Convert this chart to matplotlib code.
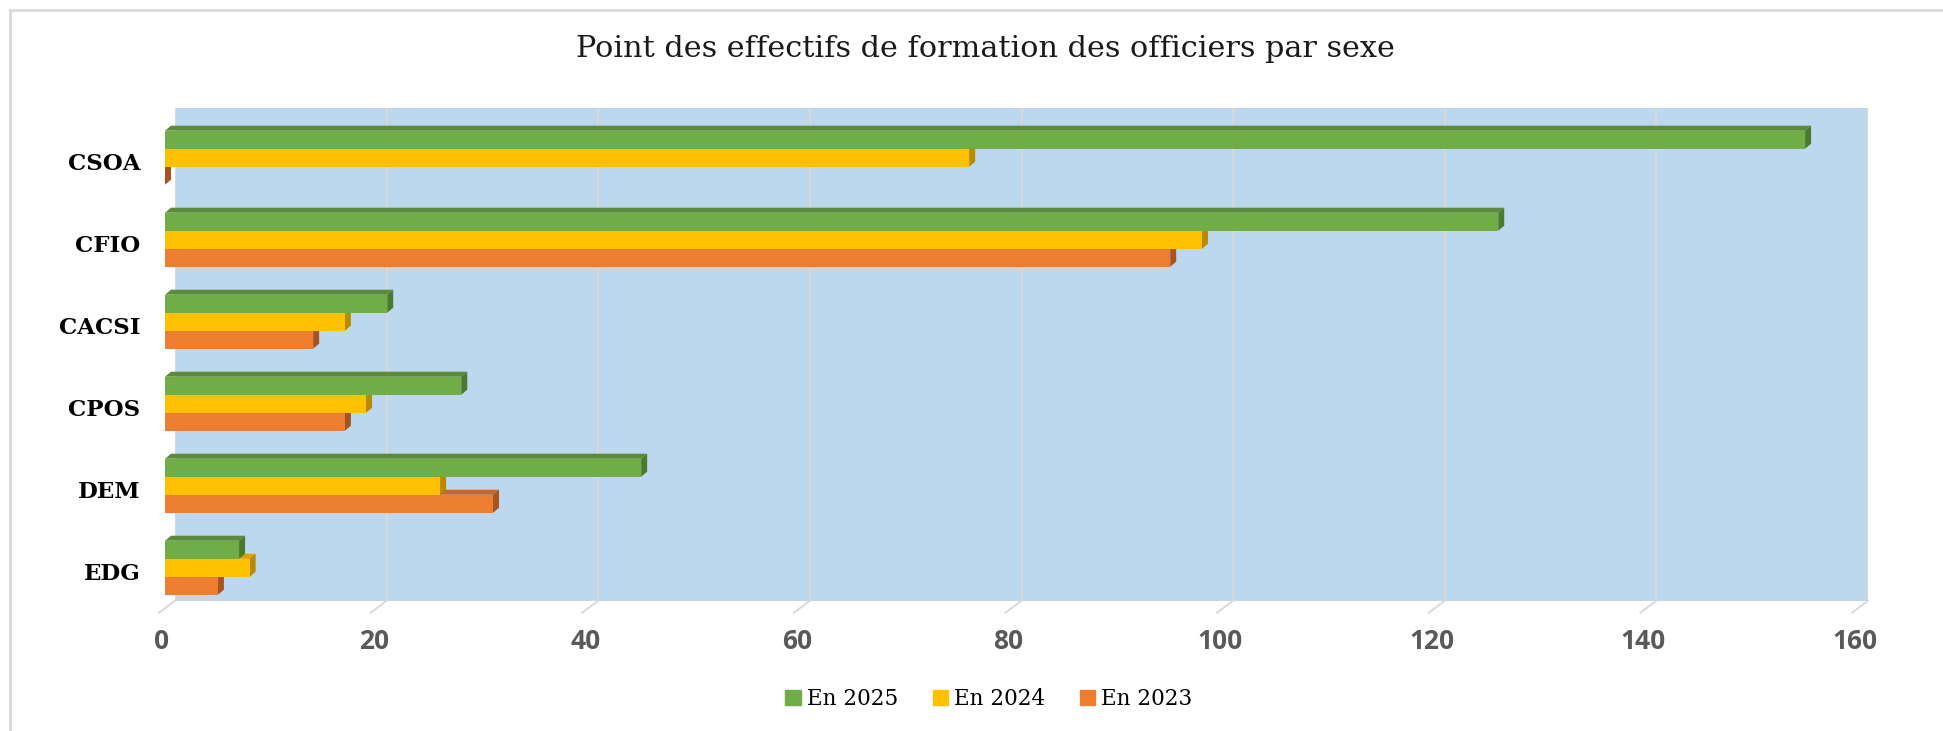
import numpy as np
import matplotlib.pyplot as plt
from matplotlib.patches import Polygon, Patch
from matplotlib.transforms import ScaledTranslation

categories = ["CSOA", "CFIO", "CACSI", "CPOS", "DEM", "EDG"]
en_2025 = [155, 126, 21, 28, 45, 7]
en_2024 = [76, 98, 17, 19, 26, 8]
en_2023 = [0, 95, 14, 17, 31, 5]
series_labels = ["En 2025", "En 2024", "En 2023"]
xticks = list(range(0, 161, 20))

front_col = ["#70AD47", "#FFC000", "#ED7D31"]
top_col = ["#5A8A3A", "#D9A300", "#C8652A"]
side_col = ["#4B7A2D", "#B88A00", "#A9531E"]

W, H = 1943, 731
fig = plt.figure(figsize=(W / 100, H / 100), dpi=100)

# back wall of the 3d chart
wall_l, wall_r, wall_t, wall_b = 175, 1868, 108, 600.7
ax = fig.add_axes([wall_l / W, 1 - wall_b / H, (wall_r - wall_l) / W, (wall_b - wall_t) / H])
ax.set_facecolor("#BDD7EE")
for s in ax.spines.values():
    s.set_visible(False)

ax.set_xlim(0, 160)
ax.set_ylim(5.402, -0.606)

ppx = (wall_r - wall_l) / 160.0   # pixels per value unit
ppy = 82.0                          # pixels per category

for xv in xticks:
    ax.axvline(xv, color="#D9D9D9", lw=1.4, zorder=1)
    # little diagonal floor ticks
    ax.plot([xv, xv - 16 / ppx], [5.402, 5.402 + 12 / ppy], color="#D9D9D9",
            lw=1.4, clip_on=False, zorder=1)

# bars: front plane sits 10 px to the left of the wall
x_off = -10 / ppx
dx = 6 / ppx
dy = -5 / ppy
bh = 18 / ppy
pos = np.arange(len(categories))
series = [en_2025, en_2024, en_2023]
shifts = [-bh, 0, bh]

# draw bottom series first so upper bars hide their top faces
for i in [2, 1, 0]:
    vals = series[i]
    yc = pos + shifts[i]
    z = 3 + (2 - i) * 2
    ax.barh(yc, vals, height=bh, left=x_off, color=front_col[i], zorder=z + 1, clip_on=False)
    for y, v in zip(yc, vals):
        xl, xr = x_off, x_off + v
        yt, yb = y - bh / 2, y + bh / 2
        ax.add_patch(Polygon([(xl, yt), (xr, yt), (xr + dx, yt + dy), (xl + dx, yt + dy)],
                             closed=True, color=top_col[i], lw=0, zorder=z, clip_on=False))
        ax.add_patch(Polygon([(xr, yt), (xr + dx, yt + dy), (xr + dx, yb + dy), (xr, yb)],
                             closed=True, color=side_col[i], lw=0, zorder=z, clip_on=False))

ax.set_xticks(xticks)
ax.set_xticklabels([str(t) for t in xticks], fontsize=19, fontweight="bold",
                   color="#595959", family="Open Sans")
ax.tick_params(axis="x", length=0, pad=20)
for lab in ax.get_xticklabels():
    lab.set_transform(lab.get_transform() + ScaledTranslation(-0.13, 0, fig.dpi_scale_trans))

ax.set_yticks(pos)
ax.set_yticklabels(categories, fontsize=16.5, fontweight="bold", color="black",
                   family="DejaVu Serif")
ax.tick_params(axis="y", length=0, pad=25)
for lab in ax.get_yticklabels():
    lab.set_transform(lab.get_transform() + ScaledTranslation(0, -0.04, fig.dpi_scale_trans))

fig.text(985 / W, 1 - 49 / H, "Point des effectifs de formation des officiers par sexe",
         ha="center", va="center", fontsize=21.8, family="DejaVu Serif", color="#1a1a1a")

handles = [Patch(color=c) for c in front_col]
fig.legend(handles, series_labels, loc="center", bbox_to_anchor=(989 / W, 1 - 699 / H),
           ncol=3, frameon=False, prop={"family": "DejaVu Serif", "size": 15.5},
           handlelength=0.7, handleheight=0.7, handletextpad=0.3, columnspacing=1.6)

# outer chart border (top and left only visible)
fig.add_artist(plt.Line2D([10 / W, 10 / W], [0, 1 - 10 / H], color="#D9D9D9", lw=2))
fig.add_artist(plt.Line2D([10 / W, 1], [1 - 10 / H, 1 - 10 / H], color="#D9D9D9", lw=2))

fig.savefig("out.png", dpi=100)
